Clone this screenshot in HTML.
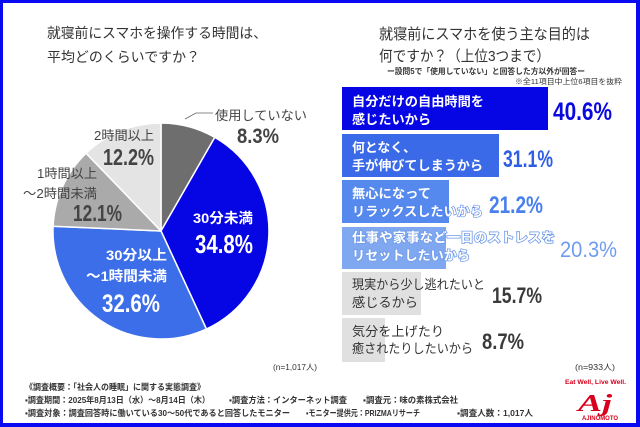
<!DOCTYPE html>
<html><head><meta charset="utf-8">
<style>
html,body{margin:0;padding:0;background:#fff;}
svg{display:block;}
text{font-family:"Liberation Sans","Noto Sans CJK JP",sans-serif;}
.n{font-family:"Liberation Sans","Noto Sans CJK JP",sans-serif;font-weight:bold;}
</style></head>
<body>
<svg width="640" height="427" viewBox="0 0 640 427" xmlns="http://www.w3.org/2000/svg">
<rect x="0" y="0" width="640" height="427" fill="#0a0af2"/>
<rect x="3" y="3" width="633" height="420" fill="#ffffff"/>

<!-- Left title -->
<text x="47" y="38" font-size="14" fill="#333" textLength="220" lengthAdjust="spacingAndGlyphs">就寝前にスマホを操作する時間は、</text>
<text x="47" y="62" font-size="14" fill="#333" textLength="153" lengthAdjust="spacingAndGlyphs">平均どのくらいですか？</text>

<!-- Pie -->
<g stroke="#fff" stroke-width="1.5" stroke-linejoin="round">
<path d="M161,231 L161,123 A108,108 0 0 1 214.8,137.4 Z" fill="#6e6e6e"/>
<path d="M161,231 L214.8,137.4 A108,108 0 0 1 206.4,329.0 Z" fill="#0606e4"/>
<path d="M161,231 L206.4,329.0 A108,108 0 0 1 53.1,226.2 Z" fill="#3c6ee9"/>
<path d="M161,231 L53.1,226.2 A108,108 0 0 1 86.1,153.2 Z" fill="#aaaaaa"/>
<path d="M161,231 L86.1,153.2 A108,108 0 0 1 161,123 Z" fill="#e4e4e4"/>
</g>
<polyline points="185,119 196,113 213,113" fill="none" stroke="#666" stroke-width="0.8"/>

<!-- Pie labels -->
<text x="215" y="120" font-size="13" fill="#444" textLength="92" lengthAdjust="spacingAndGlyphs">使用していない</text>
<text class="n" x="237" y="143" font-size="21" fill="#444" textLength="42" lengthAdjust="spacingAndGlyphs">8.3%</text>

<text x="94" y="140" font-size="13" fill="#444" textLength="60" lengthAdjust="spacingAndGlyphs">2時間以上</text>
<text class="n" x="103" y="165" font-size="23" fill="#444" textLength="51" lengthAdjust="spacingAndGlyphs">12.2%</text>

<text x="37" y="178" font-size="13" fill="#444" textLength="60" lengthAdjust="spacingAndGlyphs">1時間以上</text>
<text x="23" y="198" font-size="13" fill="#444" textLength="74" lengthAdjust="spacingAndGlyphs">〜2時間未満</text>
<text class="n" x="73" y="221" font-size="23" fill="#444" textLength="49" lengthAdjust="spacingAndGlyphs">12.1%</text>

<text x="193" y="223" font-size="14" font-weight="bold" fill="#fff" textLength="60" lengthAdjust="spacingAndGlyphs">30分未満</text>
<text class="n" x="195" y="253" font-size="26" fill="#fff" textLength="58" lengthAdjust="spacingAndGlyphs">34.8%</text>

<text x="106" y="260" font-size="14" font-weight="bold" fill="#fff" textLength="61" lengthAdjust="spacingAndGlyphs">30分以上</text>
<text x="86" y="281" font-size="14" font-weight="bold" fill="#fff" textLength="81" lengthAdjust="spacingAndGlyphs">〜1時間未満</text>
<text class="n" x="102" y="312" font-size="25" fill="#fff" textLength="58" lengthAdjust="spacingAndGlyphs">32.6%</text>

<text x="273" y="370" font-size="8" fill="#333" textLength="44" lengthAdjust="spacingAndGlyphs">(n=1,017人)</text>

<!-- Right title -->
<text x="379" y="39" font-size="15" fill="#333" textLength="211" lengthAdjust="spacingAndGlyphs">就寝前にスマホを使う主な目的は</text>
<text x="379" y="61" font-size="15" fill="#333" textLength="171" lengthAdjust="spacingAndGlyphs">何ですか？（上位3つまで）</text>
<text x="387" y="74" font-size="8" font-weight="bold" fill="#333" textLength="198" lengthAdjust="spacingAndGlyphs">ー設問5で「使用していない」と回答した方以外が回答ー</text>
<text x="515" y="84" font-size="7.5" fill="#333" textLength="107" lengthAdjust="spacingAndGlyphs">※全11項目中上位6項目を抜粋</text>

<!-- Bars -->
<rect x="342" y="87" width="206" height="43" fill="#0606e4"/>
<rect x="342" y="134" width="157" height="43" fill="#3a6ae8"/>
<rect x="342" y="180" width="107" height="43" fill="#5689ee"/>
<rect x="342" y="227" width="104" height="42" fill="#80a8f0"/>
<rect x="342" y="272" width="79" height="43" fill="#e0e0e0"/>
<rect x="342" y="318" width="43" height="44" fill="#e0e0e0"/>

<g font-size="13" font-weight="bold">
<text x="352" y="106" fill="#fff" textLength="132" lengthAdjust="spacingAndGlyphs">自分だけの自由時間を</text>
<text x="352" y="124" fill="#fff" textLength="79" lengthAdjust="spacingAndGlyphs">感じたいから</text>
<text x="352" y="152" fill="#fff" textLength="64" lengthAdjust="spacingAndGlyphs">何となく、</text>
<text x="352" y="170" fill="#fff" textLength="131" lengthAdjust="spacingAndGlyphs">手が伸びてしまうから</text>
<text x="352" y="198" fill="#fff" textLength="79" lengthAdjust="spacingAndGlyphs">無心になって</text>
<text x="352" y="216" fill="#fff" stroke="#4f82ec" stroke-width="1.2" paint-order="stroke" textLength="131" lengthAdjust="spacingAndGlyphs">リラックスしたいから</text>
<text x="352" y="242" fill="#fff" stroke="#6f9bea" stroke-width="1.6" paint-order="stroke" textLength="203" lengthAdjust="spacingAndGlyphs">仕事や家事など一日のストレスを</text>
<text x="352" y="260" fill="#fff" stroke="#6f9bea" stroke-width="1.6" paint-order="stroke" textLength="118" lengthAdjust="spacingAndGlyphs">リセットしたいから</text>
</g>
<g font-size="13" fill="#333">
<text x="352" y="289" textLength="133" lengthAdjust="spacingAndGlyphs">現実から少し逃れたいと</text>
<text x="352" y="307" textLength="66" lengthAdjust="spacingAndGlyphs">感じるから</text>
<text x="352" y="336" textLength="92" lengthAdjust="spacingAndGlyphs">気分を上げたり</text>
<text x="352" y="353" textLength="121" lengthAdjust="spacingAndGlyphs">癒されたりしたいから</text>
</g>

<text class="n" x="553" y="120" font-size="25" fill="#0a0ae0" textLength="59" lengthAdjust="spacingAndGlyphs">40.6%</text>
<text class="n" x="503" y="167" font-size="24" fill="#2f5ee6" textLength="50" lengthAdjust="spacingAndGlyphs">31.1%</text>
<text class="n" x="489" y="213" font-size="24" fill="#4a80ee" textLength="54" lengthAdjust="spacingAndGlyphs">21.2%</text>
<text x="560" y="257" font-size="22" fill="#6f9cf0" textLength="57" lengthAdjust="spacingAndGlyphs">20.3%</text>
<text class="n" x="492" y="303" font-size="22" fill="#3a3a3a" textLength="50" lengthAdjust="spacingAndGlyphs">15.7%</text>
<text class="n" x="482" y="349" font-size="22" fill="#3a3a3a" textLength="42" lengthAdjust="spacingAndGlyphs">8.7%</text>

<text x="575" y="370" font-size="8" fill="#333" textLength="40" lengthAdjust="spacingAndGlyphs">(n=933人)</text>

<!-- Footer -->
<g font-size="8.5" font-weight="bold" fill="#333">
<text x="25" y="390" textLength="180" lengthAdjust="spacingAndGlyphs">《調査概要：「社会人の睡眠」に関する実態調査》</text>
<text x="25" y="403" textLength="185" lengthAdjust="spacingAndGlyphs">▪調査期間：2025年8月13日（水）〜8月14日（木）</text>
<text x="229" y="403" textLength="118" lengthAdjust="spacingAndGlyphs">▪調査方法：インターネット調査</text>
<text x="363" y="403" textLength="95" lengthAdjust="spacingAndGlyphs">▪調査元：味の素株式会社</text>
<text x="25" y="416" textLength="265" lengthAdjust="spacingAndGlyphs">▪調査対象：調査回答時に働いている30〜50代であると回答したモニター</text>
<text x="306" y="416" textLength="114" lengthAdjust="spacingAndGlyphs">▪モニター提供元：PRIZMAリサーチ</text>
<text x="457" y="416" textLength="76" lengthAdjust="spacingAndGlyphs">▪調査人数：1,017人</text>
</g>

<!-- Logo -->
<text x="565" y="384" font-size="6.5" font-weight="bold" fill="#d8001c" textLength="61" lengthAdjust="spacingAndGlyphs">Eat Well, Live Well.</text>
<text x="578" y="411" font-size="24" font-weight="bold" font-style="italic" fill="#d8001c" style="font-family:'Liberation Serif',serif" textLength="34" lengthAdjust="spacingAndGlyphs">Aj</text>
<text x="582" y="420" font-size="6" font-weight="bold" fill="#d8001c" textLength="36" lengthAdjust="spacingAndGlyphs">AJINOMOTO</text>
</svg>
</body></html>
